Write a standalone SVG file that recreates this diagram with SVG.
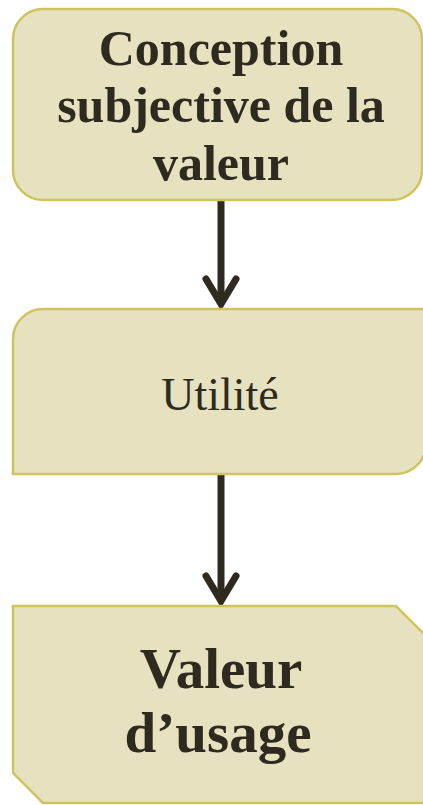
<svg xmlns="http://www.w3.org/2000/svg" width="423" height="805" viewBox="0 0 423 805">
  <style>
    .box { fill: #E6E1BF; stroke: #CFC45E; stroke-width: 2.5; }
    .lbl { font-family: "Liberation Serif", "DejaVu Serif", serif; fill: #2E2A20; text-anchor: middle; }
    .b { font-weight: bold; }
    .edge { stroke: #2E2A20; stroke-width: 7; fill: none; }
    .head { stroke: #2E2A20; stroke-width: 7; fill: none; stroke-linecap: round; stroke-linejoin: miter; }
  </style>
  <rect width="423" height="805" fill="#FFFFFF"/>

  <g id="connectors">
    <line class="edge" x1="221" y1="200" x2="221" y2="302"/>
    <polyline class="head" points="206,279 221,304 236,279"/>
    <line class="edge" x1="221" y1="474" x2="221" y2="599"/>
    <polyline class="head" points="206,576 221,601 236,576"/>
  </g>

  <g id="node-conception">
    <rect class="box" x="13" y="9" width="409" height="191" rx="30" ry="30"/>
    <text class="lbl b" x="221" y="65" font-size="50">Conception</text>
    <text class="lbl b" x="221" y="122" font-size="50">subjective de la</text>
    <text class="lbl b" x="221" y="180" font-size="50">valeur</text>
  </g>

  <g id="node-utilite">
    <path class="box" d="M13,474 V339 A30,30 0 0 1 43,309 H426 V444 A30,30 0 0 1 396,474 Z"/>
    <text class="lbl" x="220" y="410" font-size="46">Utilité</text>
  </g>

  <g id="node-valeur">
    <path class="box" d="M13,606 H396 L424,634 V803 H43 L13,773 Z"/>
    <text class="lbl b" x="221" y="688" font-size="57">Valeur</text>
    <text class="lbl b" x="218" y="752" font-size="57">d’usage</text>
  </g>
</svg>
